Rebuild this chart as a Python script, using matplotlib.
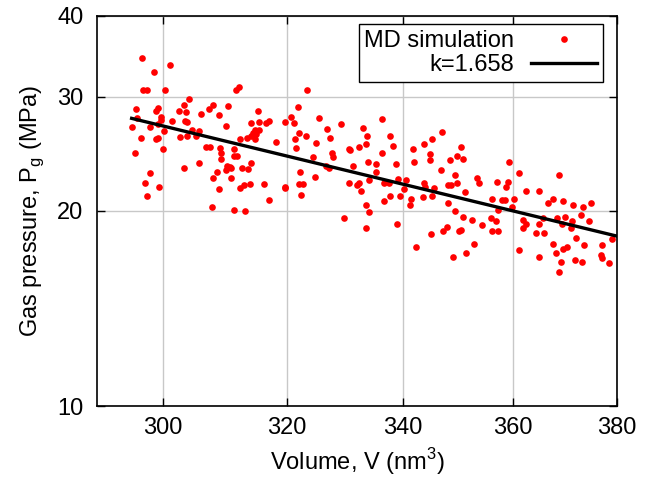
import matplotlib
matplotlib.use('Agg')
import matplotlib.pyplot as plt
import numpy as np
from matplotlib.ticker import FixedLocator, FixedFormatter, NullLocator

plt.rcParams['font.family'] = ['Liberation Sans', 'DejaVu Sans']

volume = [
    296.8, 301.2, 298.6, 297.0, 297.6, 300.4, 304.2, 303.4, 295.9, 299.3, 298.9, 302.5, 303.6,
    296.0, 299.8, 299.7, 301.5, 303.5, 303.9, 306.1, 307.9, 307.3, 309.0, 295.2, 298.1, 299.2,
    300.2, 296.7, 298.9, 299.2, 302.7, 303.9, 304.6, 305.2, 305.8, 295.7, 300.1, 303.4, 305.8,
    306.9, 307.5, 309.1, 309.2, 309.3, 298.1, 297.3, 299.5, 297.5, 307.9, 308.6, 309.0, 307.8,
    311.6, 312.1, 323.4, 310.4, 315.2, 310.1, 314.1, 315.5, 316.5, 317.1, 314.7, 315.5, 314.5,
    315.0, 314.1, 314.8, 313.4, 312.3, 318.2, 319.8, 320.7, 321.2, 321.9, 325.5, 326.8, 329.2,
    322.0, 323.3, 321.4, 324.9, 321.6, 327.3, 311.3, 311.3, 311.9, 310.2, 310.7, 310.9, 310.1,
    312.7, 313.6, 314.1, 310.8, 324.4, 327.6, 327.8, 330.6, 330.8, 326.6, 327.2, 331.2, 322.3,
    324.7, 330.5, 312.3, 313.0, 314.0, 316.2, 319.8, 319.8, 322.0, 322.8, 322.4, 317.0, 311.3,
    313.2, 329.7,
    336.3, 332.9, 333.7, 333.5, 332.3, 337.6, 338.2, 336.3, 333.8, 335.3, 335.3, 338.8, 332.2,
    332.0, 332.6, 334.0, 336.6, 337.5, 339.0, 340.5, 340.2, 337.7, 339.4, 336.7, 333.5, 334.0,
    341.3, 341.2, 333.4, 338.9, 342.2, 341.7, 341.9, 343.7, 345.1, 347.0, 344.7, 344.8, 343.7,
    343.9, 343.5, 345.5, 345.1, 346.8, 345.0, 347.1, 347.8, 348.9, 351.3, 352.8, 350.0, 350.3,
    348.1, 349.3, 350.7, 352.4, 354.3, 348.4, 349.6, 350.4, 350.7, 349.2, 348.1, 348.6, 349.6,
    351.1, 353.3, 353.6,
    359.3, 361.1, 357.0, 359.0, 358.7, 362.4, 364.8, 368.8, 356.1, 358.0, 358.4, 360.1, 359.8,
    357.1, 355.8, 356.8, 356.0, 357.1, 361.9, 362.4, 361.8, 364.9, 365.7, 364.4, 365.8, 366.6,
    367.6, 369.4, 368.3, 369.9, 369.3, 371.2, 371.1, 371.4, 373.4, 374.9, 372.9, 374.6, 371.9,
    367.6, 368.1, 369.4, 370.3, 369.0, 368.8, 361.1, 364.9, 371.8, 373.1, 373.6, 377.1, 376.9,
    377.1, 378.4, 379.0,
]
pressure = [
    34.4, 33.6, 32.8, 30.7, 30.8, 30.8, 29.8, 29.2, 28.7, 28.8, 28.5, 28.5, 28.4,
    27.8, 27.9, 27.6, 27.5, 27.5, 27.4, 28.2, 29.2, 28.7, 28.1, 27.0, 27.0, 27.2,
    26.6, 25.9, 25.8, 25.9, 26.0, 26.1, 26.7, 26.1, 26.6, 24.6, 24.9, 23.3, 23.7,
    25.1, 25.1, 25.0, 24.6, 24.1, 22.9, 22.1, 21.8, 21.1, 22.5, 23.0, 21.6, 20.3,
    30.7, 31.1, 30.8, 29.0, 28.5, 27.1, 27.3, 27.4, 27.3, 27.5, 26.7, 26.7, 26.4,
    26.3, 26.1, 25.8, 25.9, 25.8, 25.6, 27.4, 27.9, 27.3, 28.9, 27.8, 26.8, 27.2,
    26.4, 26.1, 25.8, 25.5, 25.0, 25.9, 24.9, 24.3, 24.3, 23.5, 23.4, 23.3, 23.1,
    23.3, 23.2, 23.7, 22.5, 24.2, 24.6, 24.2, 24.9, 24.8, 23.5, 23.3, 23.5, 23.0,
    22.6, 22.1, 21.7, 21.9, 22.0, 22.0, 21.8, 21.7, 22.0, 22.0, 21.2, 20.8, 20.1,
    20.0, 19.5,
    27.7, 26.9, 26.1, 25.4, 25.1, 26.1, 25.2, 24.6, 23.8, 23.6, 23.0, 23.6, 22.1,
    21.9, 21.5, 22.3, 22.1, 22.1, 22.4, 22.3, 21.6, 21.1, 21.1, 20.7, 20.4, 19.9,
    20.9, 20.4, 18.8, 19.1, 17.6, 24.9, 23.8, 25.4, 25.8, 26.5, 24.5, 24.0, 22.1,
    21.8, 21.0, 21.7, 21.1, 23.1, 18.4, 18.6, 18.9, 17.0, 17.2, 17.8, 18.6, 18.7,
    20.6, 20.0, 19.6, 19.4, 19.0, 24.0, 24.3, 25.1, 24.1, 22.7, 21.9, 21.9, 22.1,
    21.4, 22.5, 22.1,
    23.8, 22.9, 22.2, 22.2, 21.8, 21.5, 21.5, 22.7, 20.9, 20.8, 20.8, 20.9, 20.3,
    20.1, 19.5, 19.3, 18.6, 18.6, 19.4, 19.1, 18.8, 19.1, 19.5, 18.5, 18.5, 20.6,
    20.9, 20.7, 19.5, 19.6, 19.1, 19.3, 18.8, 20.4, 20.3, 20.6, 19.7, 19.3, 18.2,
    17.8, 17.2, 17.5, 17.6, 16.7, 16.1, 17.4, 17.0, 16.8, 16.7, 17.7, 17.7, 17.1,
    16.9, 16.6, 18.1,
]

k_exp = 1.658
fit_ref_v = 295.2
fit_ref_p = 27.8
fit_v_range = [295.2, 380.0]

x_ticks = [300, 320, 340, 360, 380]
y_ticks = [10, 20, 30, 40]

FS = 17

fig = plt.figure(figsize=(6.64, 4.79), dpi=100)
ax = fig.add_axes([0.1468, 0.1524, 0.7824, 0.8142])
ax.set_xscale('log')
ax.set_yscale('log')
ax.set_xlim(290, 380)
ax.set_ylim(10, 40)

ax.grid(True, color='#c8c8c8', lw=1.0, zorder=0)
ax.set_axisbelow(True)

ax.plot(volume, pressure, 'o', color='#ff0000', ms=4.8, mew=0,
        label='MD simulation', zorder=3)
vfit = np.linspace(fit_v_range[0], fit_v_range[1], 200)
ax.plot(vfit, fit_ref_p * (vfit / fit_ref_v) ** (-k_exp), color='black', lw=2.4,
        label=f'k={k_exp}', zorder=4)

ax.xaxis.set_major_locator(FixedLocator(x_ticks))
ax.xaxis.set_major_formatter(FixedFormatter([str(t) for t in x_ticks]))
ax.xaxis.set_minor_locator(NullLocator())
ax.yaxis.set_major_locator(FixedLocator(y_ticks))
ax.yaxis.set_major_formatter(FixedFormatter([str(t) for t in y_ticks]))
ax.yaxis.set_minor_locator(NullLocator())

ax.tick_params(which='both', direction='in', length=6, width=1.0,
               top=True, right=True, labelsize=FS)
ax.tick_params(axis='x', pad=8)
ax.tick_params(axis='y', pad=10)
for sp in ax.spines.values():
    sp.set_linewidth(1.2)

ax.set_xlabel('Volume, V (nm$^{\\mathregular{3}}$)', fontsize=FS, labelpad=5)
ax.set_ylabel('Gas pressure, P$_{\\mathregular{g}}$ (MPa)', fontsize=FS, labelpad=8)

leg = ax.legend(loc='upper right', bbox_to_anchor=(0.973, 0.979), borderaxespad=0,
                markerfirst=False, fancybox=False, edgecolor='black', framealpha=1,
                fontsize=FS, handlelength=2.8, handletextpad=0.7, borderpad=0.25,
                labelspacing=0.1, numpoints=1)
leg.get_frame().set_linewidth(1.0)

fig.savefig('out.png', dpi=100)
